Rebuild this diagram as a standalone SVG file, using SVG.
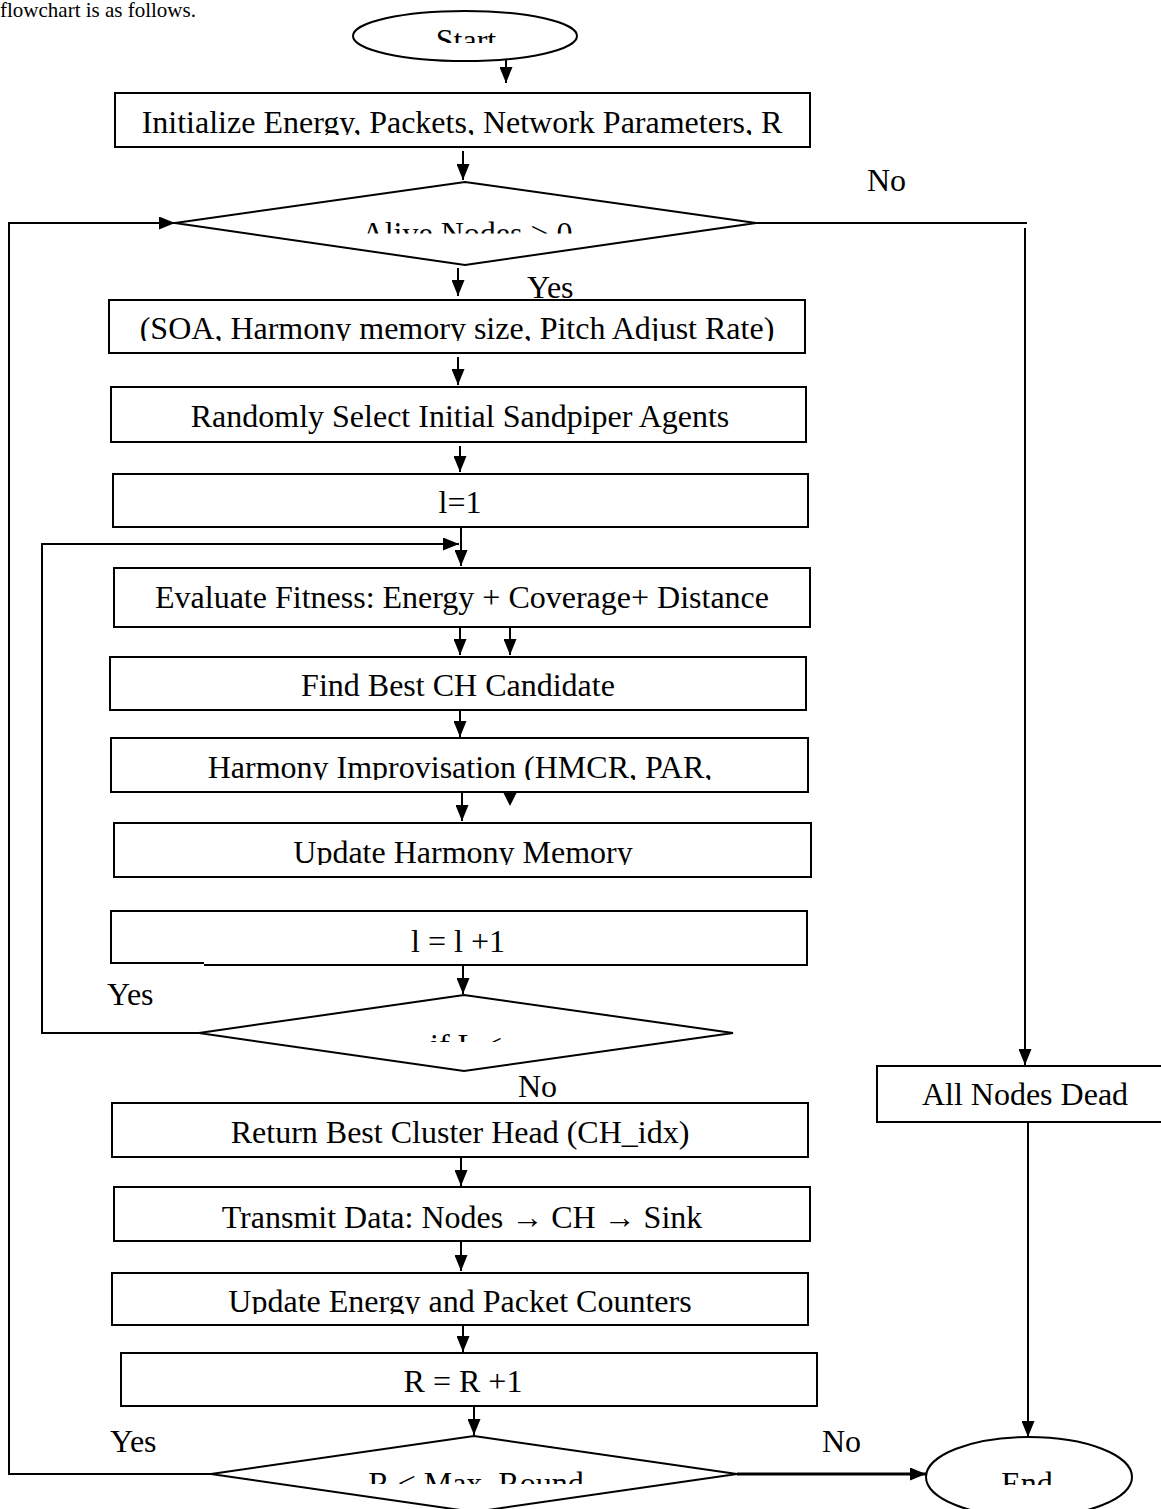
<svg xmlns="http://www.w3.org/2000/svg" width="1161" height="1509" viewBox="0 0 1161 1509">
<style>
.box{fill:#fff;stroke:#000;stroke-width:2}
.lbl{font-family:"Liberation Serif","Times New Roman",serif;font-size:32px;fill:#000;text-anchor:middle}
.tag{font-family:"Liberation Serif","Times New Roman",serif;font-size:32px;fill:#000}
.cap{font-family:"Liberation Serif","Times New Roman",serif;font-size:21px;fill:#000}
.cn{fill:none;stroke:#000;stroke-width:2}
.thick{stroke-width:3}
</style>
<defs>
<marker id="ah" markerUnits="userSpaceOnUse" markerWidth="16" markerHeight="13" refX="16" refY="6.5" orient="auto"><path d="M0,0 L16,6.5 L0,13 Z" fill="#000"/></marker>
<clipPath id="cStart" clipPathUnits="userSpaceOnUse"><rect x="0" y="0" width="1161" height="43"/></clipPath>
<clipPath id="cAlive" clipPathUnits="userSpaceOnUse"><rect x="0" y="0" width="1161" height="233.5"/></clipPath>
<clipPath id="cNo1" clipPathUnits="userSpaceOnUse"><rect x="0" y="0" width="1161" height="191"/></clipPath>
<clipPath id="cInit" clipPathUnits="userSpaceOnUse"><rect x="0" y="0" width="1161" height="135"/></clipPath>
<clipPath id="cSOA" clipPathUnits="userSpaceOnUse"><rect x="0" y="0" width="1161" height="341"/></clipPath>
<clipPath id="cHarm" clipPathUnits="userSpaceOnUse"><rect x="0" y="0" width="1161" height="780"/></clipPath>
<clipPath id="cUHM" clipPathUnits="userSpaceOnUse"><rect x="0" y="0" width="1161" height="865"/></clipPath>
<clipPath id="cIf" clipPathUnits="userSpaceOnUse"><rect x="0" y="0" width="1161" height="1042"/></clipPath>
<clipPath id="cUE" clipPathUnits="userSpaceOnUse"><rect x="0" y="0" width="1161" height="1314"/></clipPath>
<clipPath id="cR" clipPathUnits="userSpaceOnUse"><rect x="0" y="0" width="1161" height="1484"/></clipPath>
<clipPath id="cEnd" clipPathUnits="userSpaceOnUse"><rect x="0" y="0" width="1161" height="1485"/></clipPath>
</defs>
<rect width="1161" height="1509" fill="#fff"/>
<text class="cap" x="0" y="17">flowchart is as follows.</text>

<g id="connectors">
<line class="cn" x1="506" y1="60" x2="506" y2="83" marker-end="url(#ah)"/>
<line class="cn" x1="463" y1="151" x2="463" y2="180" marker-end="url(#ah)"/>
<line class="cn" x1="458" y1="268" x2="458" y2="296" marker-end="url(#ah)"/>
<line class="cn" x1="458" y1="357" x2="458" y2="385" marker-end="url(#ah)"/>
<line class="cn" x1="460" y1="446" x2="460" y2="472" marker-end="url(#ah)"/>
<line class="cn" x1="461" y1="527" x2="461" y2="566" marker-end="url(#ah)"/>
<polyline class="cn" points="199,1033 42,1033 42,544 459,544" marker-end="url(#ah)"/>
<line class="cn" x1="460" y1="627" x2="460" y2="655" marker-end="url(#ah)"/>
<line class="cn" x1="510" y1="627" x2="510" y2="655" marker-end="url(#ah)"/>
<line class="cn" x1="460" y1="711" x2="460" y2="737" marker-end="url(#ah)"/>
<line class="cn" x1="462" y1="793" x2="462" y2="821" marker-end="url(#ah)"/>
<polygon points="503,792 517,792 510,806" fill="#000"/>
<line class="cn" x1="463" y1="966" x2="463" y2="994" marker-end="url(#ah)"/>
<line class="cn" x1="461" y1="1158" x2="461" y2="1186" marker-end="url(#ah)"/>
<line class="cn" x1="461" y1="1242" x2="461" y2="1271" marker-end="url(#ah)"/>
<line class="cn" x1="463" y1="1326" x2="463" y2="1352" marker-end="url(#ah)"/>
<line class="cn" x1="474" y1="1406" x2="474" y2="1435" marker-end="url(#ah)"/>
<polyline class="cn" points="211,1474 9,1474 9,223 175,223" marker-end="url(#ah)"/>
<line class="cn thick" x1="737" y1="1474" x2="926" y2="1474" marker-end="url(#ah)"/>
<polyline class="cn" points="756,223 1027,223"/>
<line class="cn" x1="1025" y1="228" x2="1025" y2="1065" marker-end="url(#ah)"/>
<line class="cn" x1="1028" y1="1122" x2="1028" y2="1437" marker-end="url(#ah)"/>
</g>

<g id="start">
<ellipse class="box" cx="465" cy="36" rx="112" ry="25"/>
<text class="lbl" x="466" y="51" clip-path="url(#cStart)">Start</text>
</g>
<g id="init">
<rect class="box" x="115" y="93" width="695" height="54"/>
<text class="lbl" x="462" y="133" clip-path="url(#cInit)">Initialize Energy, Packets, Network Parameters, R</text>
</g>
<g id="alive">
<polygon class="box" points="465,182 756,223 465,265 175,223"/>
<text class="lbl" x="467" y="244" clip-path="url(#cAlive)">Alive Nodes &gt; 0</text>
</g>
<g id="soa">
<rect class="box" x="109" y="300" width="696" height="53"/>
<text class="lbl" x="457" y="339" clip-path="url(#cSOA)">(SOA, Harmony memory size, Pitch Adjust Rate)</text>
</g>
<g id="random">
<rect class="box" x="111" y="387" width="695" height="55"/>
<text class="lbl" x="460" y="427">Randomly Select Initial Sandpiper Agents</text>
</g>
<g id="l1">
<rect class="box" x="113" y="474" width="695" height="53"/>
<text class="lbl" x="460" y="513">l=1</text>
</g>
<g id="evaluate">
<rect class="box" x="114" y="568" width="696" height="59"/>
<text class="lbl" x="462" y="608">Evaluate Fitness: Energy + Coverage+ Distance</text>
</g>
<g id="findbest">
<rect class="box" x="110" y="657" width="696" height="53"/>
<text class="lbl" x="458" y="696">Find Best CH Candidate</text>
</g>
<g id="harmony">
<rect class="box" x="111" y="738" width="697" height="54"/>
<text class="lbl" x="460" y="778" clip-path="url(#cHarm)">Harmony Improvisation (HMCR, PAR,</text>
</g>
<g id="updatehm">
<rect class="box" x="114" y="823" width="697" height="54"/>
<text class="lbl" x="463" y="863" clip-path="url(#cUHM)">Update Harmony Memory</text>
</g>
<g id="lplus">
<path class="box" d="M204,965 H807 V911 H111 V963 H204"/>
<text class="lbl" x="458" y="952">l = l +1</text>
</g>
<g id="ifl">
<polygon class="box" points="464,995 733,1033 464,1071 199,1033"/>
<text class="lbl" x="466" y="1056" clip-path="url(#cIf)">if L &lt;</text>
</g>
<g id="return">
<rect class="box" x="112" y="1103" width="696" height="54"/>
<text class="lbl" x="460" y="1143">Return Best Cluster Head (CH_idx)</text>
</g>
<g id="transmit">
<rect class="box" x="114" y="1187" width="696" height="54"/>
<text class="lbl" x="462" y="1228">Transmit Data: Nodes → CH → Sink</text>
</g>
<g id="updateenergy">
<rect class="box" x="112" y="1273" width="696" height="52"/>
<text class="lbl" x="460" y="1312" clip-path="url(#cUE)">Update Energy and Packet Counters</text>
</g>
<g id="rplus">
<rect class="box" x="121" y="1353" width="696" height="53"/>
<text class="lbl" x="463" y="1392">R = R +1</text>
</g>
<g id="maxround">
<polygon class="box" points="474,1436 737,1474 474,1512 211,1474"/>
<text class="lbl" x="476" y="1494" clip-path="url(#cR)">R &lt; Max_Round</text>
</g>
<g id="alldead">
<rect class="box" x="877" y="1066" width="292" height="56"/>
<text class="lbl" x="1025" y="1105">All Nodes Dead</text>
</g>
<g id="end">
<ellipse class="box" cx="1029" cy="1477" rx="103" ry="40"/>
<text class="lbl" x="1027" y="1494" clip-path="url(#cEnd)">End</text>
</g>

<g id="labels">
<text class="tag" x="867" y="191" clip-path="url(#cNo1)">No</text>
<text class="tag" x="527" y="298">Yes</text>
<text class="tag" x="107" y="1005">Yes</text>
<text class="tag" x="518" y="1097">No</text>
<text class="tag" x="110" y="1452">Yes</text>
<text class="tag" x="822" y="1452">No</text>
</g>
</svg>
